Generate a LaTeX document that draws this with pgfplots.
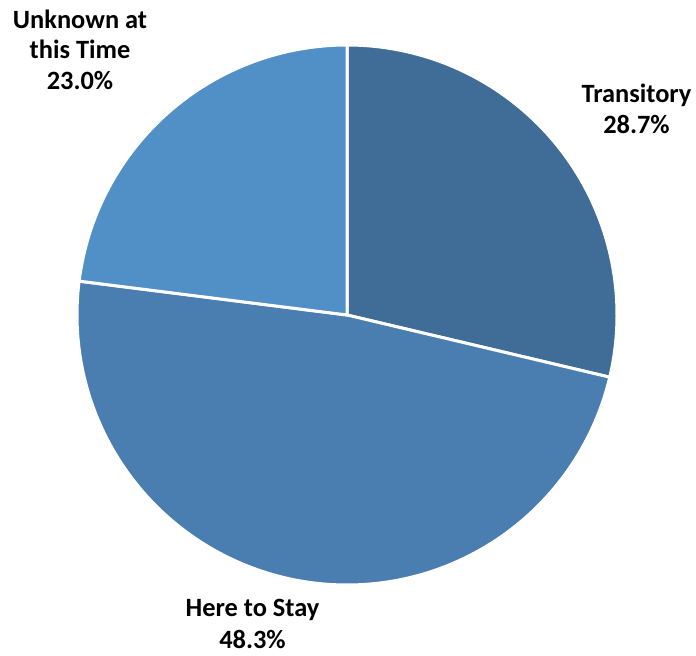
\documentclass[border=0pt]{standalone}
\usepackage{pgfplots}
\pgfplotsset{compat=1.18}
\usepackage{fontspec}
\setmainfont{Carlito}
\definecolor{cT}{HTML}{3F6D98}
\definecolor{cH}{HTML}{4A7EB0}
\definecolor{cU}{HTML}{5190C7}
% values (percent)
\def\vT{28.7}
\def\vH{48.3}
\def\vU{23.0}
\begin{document}
\begin{tikzpicture}
\pgfmathsetmacro{\aA}{90}
\pgfmathsetmacro{\aB}{90-3.6*\vT}
\pgfmathsetmacro{\aC}{\aB-3.6*\vH}
\pgfmathsetmacro{\aD}{\aC-3.6*\vU}
\begin{axis}[
  width=696bp, height=656bp, scale only axis,
  xmin=0, xmax=696, ymin=0, ymax=656,
  hide axis, clip=false,
]
\path (axis cs:0,0) rectangle (axis cs:696,656);
\addplot[fill=cT, draw=white, line width=3pt, line join=round, domain=\aB:\aA, samples=120, variable=\t]
  ({347+270*cos(\t)},{341+270*sin(\t)}) -- (axis cs:347,341) -- cycle;
\addplot[fill=cH, draw=white, line width=3pt, line join=round, domain=\aC:\aB, samples=160, variable=\t]
  ({347+270*cos(\t)},{341+270*sin(\t)}) -- (axis cs:347,341) -- cycle;
\addplot[fill=cU, draw=white, line width=3pt, line join=round, domain=\aD:\aC, samples=100, variable=\t]
  ({347+270*cos(\t)},{341+270*sin(\t)}) -- (axis cs:347,341) -- cycle;
\tikzset{lab/.style={anchor=base, inner sep=0pt, font=\fontsize{26.5}{30}\selectfont\bfseries}}
\node[lab] at (axis cs:636.5,553) {Transitory};
\node[lab] at (axis cs:636.5,522) {\vT\%};
\node[lab] at (axis cs:80,627) {Unknown at};
\node[lab] at (axis cs:80,597) {this Time};
\node[lab] at (axis cs:80,566) {\vU\%};
\node[lab] at (axis cs:252.5,39) {Here to Stay};
\node[lab] at (axis cs:252.5,8) {\vH\%};
\end{axis}
\end{tikzpicture}
\end{document}
